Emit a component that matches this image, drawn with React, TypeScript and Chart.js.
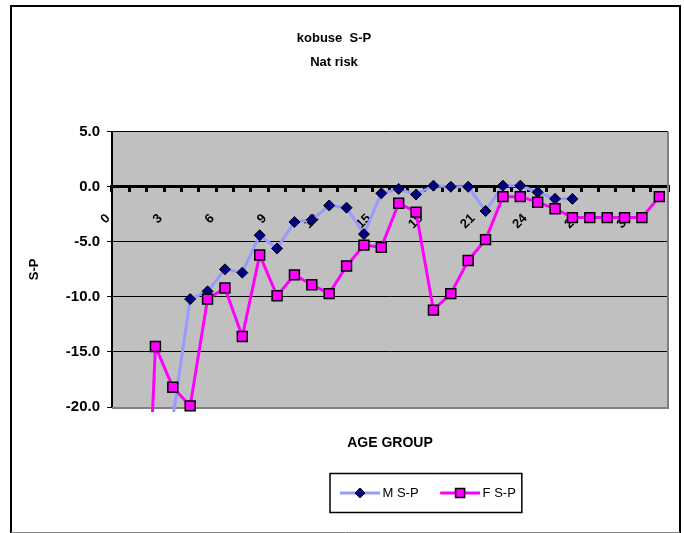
import React, { useEffect, useRef } from 'react';
import { Chart, registerables } from 'chart.js';

Chart.register(...registerables);
Chart.defaults.font.family = '"Liberation Sans", Arial, sans-serif';

// ---- data ----
const categories = [
  '0', '1', '2', '3', '4', '5', '6', '7', '8', '9', '10', '11', '12', '13', '14', '15',
  '16', '17', '18', '19', '20', '21', '22', '23', '24', '25', '26', '27', '28', '29', '30', '31',
];
const maleSP: (number | null)[] = [
  null, null, null, -21.0, -10.2, -9.5, -7.5, -7.8, -4.4, -5.6, -3.2, -3.0, -1.7, -1.9, -4.3, -0.6,
  -0.2, -0.7, 0.1, 0.0, 0.0, -2.2, 0.1, 0.1, -0.5, -1.1, -1.1, null, null, null, null, null,
];
const femaleSP: (number | null)[] = [
  null, -50, -14.5, -18.2, -19.9, -10.2, -9.2, -13.6, -6.2, -9.9, -8.0, -8.9, -9.7, -7.2, -5.3, -5.5,
  -1.5, -2.3, -11.2, -9.7, -6.7, -4.8, -0.9, -0.9, -1.4, -2.0, -2.8, -2.8, -2.8, -2.8, -2.8, -0.9,
];
const seriesNames = ['M S-P', 'F S-P'];
const titleLines = ['kobuse  S-P', 'Nat risk'];
const xTitle = 'AGE GROUP';
const yTitle = 'S-P';
const yMin = -20;
const yMax = 5;
const yStep = 5;
const labelEvery = 3;

const M_LINE = '#9999FF';
const M_MARK = '#000080';
const F_LINE = '#FF00FF';

function makeIcon(kind: 'M' | 'F'): HTMLCanvasElement {
  const c = document.createElement('canvas');
  c.width = 50;
  c.height = 14;
  const g = c.getContext('2d')!;
  g.strokeStyle = kind === 'M' ? M_LINE : F_LINE;
  g.lineWidth = 3;
  g.beginPath();
  g.moveTo(9, 7);
  g.lineTo(49, 7);
  g.stroke();
  const cx = 29;
  const cy = 7;
  if (kind === 'M') {
    g.fillStyle = M_MARK;
    g.strokeStyle = '#000';
    g.lineWidth = 1;
    g.beginPath();
    g.moveTo(cx - 5, cy);
    g.lineTo(cx, cy - 5);
    g.lineTo(cx + 5, cy);
    g.lineTo(cx, cy + 5);
    g.closePath();
    g.fill();
    g.stroke();
  } else {
    g.fillStyle = F_LINE;
    g.fillRect(cx - 4.5, cy - 4.5, 9, 9);
    g.strokeStyle = '#000';
    g.lineWidth = 1.5;
    g.strokeRect(cx - 4.5, cy - 4.5, 9, 9);
  }
  return c;
}

const LEGEND_START_X = 336;
const TITLE_CENTER_X = 334;

const framePlugin = {
  id: 'excelFrame',
  afterLayout(chart: any) {
    const lg = chart.legend;
    if (lg && lg.lineWidths) {
      const pad = lg.options.labels.padding;
      const lw = lg.lineWidths[0];
      const start = (lg.left + pad + lg.right - lw) / 2;
      const shift = LEGEND_START_X - start;
      lg.left += shift;
      lg.right += shift;
    }
    const tb = chart.titleBlock;
    if (tb) {
      const shift = TITLE_CENTER_X - (tb.left + tb.right) / 2;
      tb.left += shift;
      tb.right += shift;
    }
  },
  beforeDraw(chart: any) {
    const { ctx, chartArea: a } = chart;
    ctx.save();
    ctx.fillStyle = '#ffffff';
    ctx.fillRect(0, 0, chart.width, chart.height);
    ctx.fillStyle = '#C0C0C0';
    ctx.fillRect(a.left, a.top, a.right - a.left, a.bottom - a.top);
    ctx.restore();
  },
  beforeDatasetsDraw(chart: any) {
    const { ctx, chartArea: a } = chart;
    ctx.save();
    ctx.strokeStyle = '#808080';
    ctx.lineWidth = 2;
    ctx.beginPath();
    ctx.moveTo(a.right, a.top);
    ctx.lineTo(a.right, a.bottom + 1);
    ctx.lineTo(a.left, a.bottom + 1);
    ctx.stroke();
    ctx.restore();
  },
  afterDraw(chart: any) {
    const { ctx } = chart;
    ctx.save();
    ctx.strokeStyle = '#000';
    ctx.lineWidth = 2;
    ctx.beginPath();
    ctx.moveTo(11, 533);
    ctx.lineTo(11, 6);
    ctx.lineTo(680, 6);
    ctx.lineTo(680, 533);
    ctx.stroke();
    ctx.strokeStyle = '#808080';
    ctx.lineWidth = 1;
    ctx.beginPath();
    ctx.moveTo(11, 532.5);
    ctx.lineTo(680, 532.5);
    ctx.stroke();
    const lg = chart.legend;
    if (lg && lg.lineWidths) {
      const pad = lg.options.labels.padding;
      const lw = lg.lineWidths[0];
      const start = (lg.left + pad + lg.right - lw) / 2;
      const fontSize = lg.options.labels.font.size || 13;
      const cy = lg.top + pad + fontSize / 2;
      ctx.strokeStyle = '#000';
      ctx.lineWidth = 1.5;
      ctx.strokeRect(start - 6, cy - 19.5, lw - pad + 12, 39);
    }
    ctx.restore();
  },
};

export default function App() {
  const ref = useRef<HTMLCanvasElement>(null);

  useEffect(() => {
    const canvas = ref.current;
    if (!canvas) return;
    const icons = [makeIcon('M'), makeIcon('F')];
    const chart = new Chart(canvas, {
      type: 'line',
      data: {
        labels: categories,
        datasets: [
          {
            label: seriesNames[0],
            data: maleSP,
            xAxisID: 'x',
            yAxisID: 'y',
            borderColor: M_LINE,
            backgroundColor: M_MARK,
            borderWidth: 3,
            tension: 0,
            pointStyle: 'rectRot',
            pointRadius: 5.5,
            pointBackgroundColor: M_MARK,
            pointBorderColor: '#000',
            pointBorderWidth: 1,
            spanGaps: false,
            clip: { left: 0, top: 0, right: 0, bottom: 5 } as any,
            order: 1,
          },
          {
            label: seriesNames[1],
            data: femaleSP,
            xAxisID: 'x',
            yAxisID: 'y',
            borderColor: F_LINE,
            backgroundColor: F_LINE,
            borderWidth: 3,
            tension: 0,
            pointStyle: 'rect',
            pointRadius: 7,
            pointBackgroundColor: F_LINE,
            pointBorderColor: '#000',
            pointBorderWidth: 1.5,
            spanGaps: false,
            clip: { left: 0, top: 0, right: 0, bottom: 5 } as any,
            order: 0,
          },
        ],
      },
      options: {
        responsive: false,
        maintainAspectRatio: false,
        devicePixelRatio: 1,
        animation: false,
        events: [],
        layout: { padding: { top: 0, left: 20, right: 16, bottom: 23.5 } },
        plugins: {
          tooltip: { enabled: false },
          title: {
            display: true,
            text: titleLines,
            color: '#000',
            font: { weight: 'bold', size: 13, lineHeight: 24 / 13 },
            padding: { top: 26, bottom: 57.7 },
          },
          legend: {
            display: true,
            position: 'bottom',
            labels: {
              color: '#000',
              font: { size: 13 },
              padding: 17.5,
              usePointStyle: true,
              pointStyleWidth: 40,
              generateLabels: (ch: any) =>
                ch.data.datasets.map((ds: any, i: number) => ({
                  text: ds.label,
                  datasetIndex: i,
                  pointStyle: icons[i],
                  fillStyle: 'rgba(0,0,0,0)',
                  strokeStyle: 'rgba(0,0,0,0)',
                  lineWidth: 0,
                  hidden: false,
                  fontColor: '#000',
                })),
            },
          },
        },
        scales: {
          x: {
            type: 'category',
            position: { y: 0 } as any,
            offset: true,
            afterFit: (scale: any) => {
              scale.paddingLeft = 0;
              scale.paddingRight = 0;
            },
            grid: {
              display: true,
              drawOnChartArea: false,
              drawTicks: true,
              tickLength: 4,
              color: '#000',
              lineWidth: 3,
              offset: true,
            },
            border: { display: true, color: '#000', width: 3 },
            ticks: {
              autoSkip: false,
              maxRotation: 45,
              minRotation: 45,
              padding: 20,
              labelOffset: -12.5,
              color: '#000',
              font: { weight: 'bold', size: 13 },
              callback: (_v: any, i: number) => (i % labelEvery === 0 ? categories[i] : ''),
            },
          },
          xb: {
            type: 'category',
            position: 'bottom',
            grid: { display: false, drawTicks: false },
            border: { display: false },
            ticks: { display: false },
            title: {
              display: true,
              text: xTitle,
              color: '#000',
              font: { weight: 'bold', size: 14 },
              padding: { top: 27.6, bottom: 17.6 },
            },
          },
          y: {
            type: 'linear',
            position: 'left',
            min: yMin,
            max: yMax,
            ticks: {
              stepSize: yStep,
              color: '#000',
              padding: 7,
              font: { weight: 'bold', size: 15 },
              callback: (v: any) => Number(v).toFixed(1),
            },
            grid: { color: '#000', lineWidth: 1, tickLength: 5, drawTicks: true },
            border: { display: true, color: '#000', width: 2 },
            title: {
              display: true,
              text: yTitle,
              color: '#000',
              font: { weight: 'bold', size: 13 },
              padding: { top: 7, bottom: 16.2 },
            },
          },
        },
      } as any,
      plugins: [framePlugin],
    });
    return () => chart.destroy();
  }, []);

  return (
    <div style={{ position: 'absolute', left: 0, top: 0, width: 684, height: 533 }}>
      <canvas ref={ref} width={684} height={533} style={{ display: 'block', width: 684, height: 533 }} />
    </div>
  );
}
